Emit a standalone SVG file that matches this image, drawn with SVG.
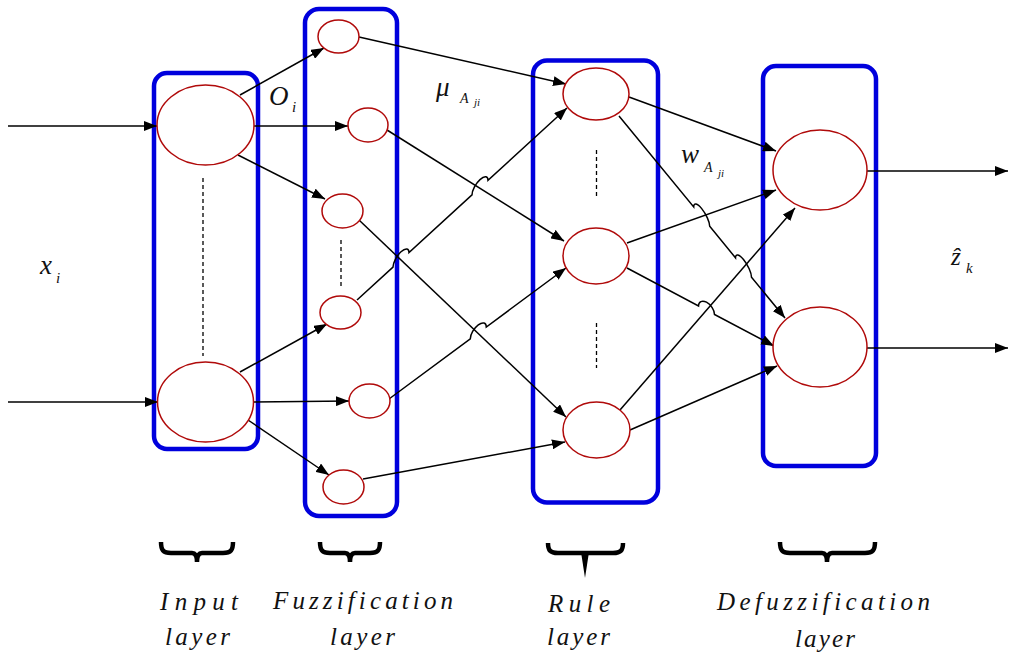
<svg xmlns="http://www.w3.org/2000/svg" width="1009" height="661" viewBox="0 0 1009 661">
  <style>
    .layer { fill: none; stroke: #0000dd; stroke-width: 4.5; }
    .neuron { fill: #ffffff; stroke: #b00a0a; stroke-width: 1.5; }
    .edge { fill: none; stroke: #000000; stroke-width: 1.5; marker-end: url(#arrow); }
    .dots { fill: none; stroke: #000000; stroke-width: 1.3; stroke-dasharray: 4 3; }
    .brace { fill: none; stroke: #000000; stroke-width: 4.5; stroke-linecap: butt; }
    text { font-family: 'Liberation Serif', 'DejaVu Serif', serif; font-style: italic; fill: #111111; }
    .caption { font-size: 25px; }
  </style>
  <defs>
    <marker id="arrow" markerUnits="userSpaceOnUse" markerWidth="13" markerHeight="10" refX="13" refY="5" orient="auto">
      <path d="M0,0 L13,5 L0,10 z" fill="#000000"/>
    </marker>
  </defs>

  <rect width="1009" height="661" fill="#ffffff"/>

  <!-- layer frames -->
  <g id="input-layer-frame"><rect class="layer" x="154" y="73" width="104" height="376" rx="13"/></g>
  <g id="fuzzification-layer-frame"><rect class="layer" x="305" y="9" width="92" height="507" rx="14"/></g>
  <g id="rule-layer-frame"><rect class="layer" x="533" y="60.5" width="125" height="442" rx="14"/></g>
  <g id="defuzzification-layer-frame"><rect class="layer" x="763" y="66" width="113" height="400" rx="13"/></g>

  <!-- connectors -->
  <g id="connectors">
    <!-- external inputs -->
    <path class="edge" d="M8,126 L157,126"/>
    <path class="edge" d="M8,402 L158,402"/>
    <!-- input to fuzzification -->
    <path class="edge" d="M240,95 L324,48"/>
    <path class="edge" d="M254,126 L348,126"/>
    <path class="edge" d="M238,155 L325,199"/>
    <path class="edge" d="M240,372 L327,324"/>
    <path class="edge" d="M253,402 L349,401"/>
    <path class="edge" d="M248,420 L329,475"/>
    <!-- fuzzification to rules (line jumps where paths cross) -->
    <path class="edge" d="M359,37 L566,84"/>
    <path class="edge" d="M387,130 L564,241"/>
    <path class="edge" d="M359,220 L566,417"/>
    <path class="edge" d="M357,300 L393,267.1 C393,262.7 396.6,255.8 401,251.8 C405.4,247.8 409,248.1 409,252.5 L472,194.9 C472,190.5 475.6,183.6 480,179.6 C484.4,175.6 488,175.9 488,180.3 L567,108"/>
    <path class="edge" d="M389,399 L470.3,338.8 C470.3,334.4 473.9,328.2 478.3,324.9 C482.7,321.6 486.3,322.6 486.3,327 L566,268"/>
    <path class="edge" d="M363,479 L565,442"/>
    <!-- rules to defuzzification -->
    <path class="edge" d="M629,97 L776,151"/>
    <path class="edge" d="M619,116 L693.7,206.9 C693.7,202.5 697.3,203.2 701.7,208.6 C706.1,214 709.7,221.9 709.7,226.3 L735.5,257.8 C735.5,253.4 739.1,254.1 743.5,259.5 C747.9,264.9 751.5,272.8 751.5,277.2 L785,318"/>
    <path class="edge" d="M627,243 L776,190"/>
    <path class="edge" d="M627,268 L698.5,306 C698.5,301.6 702.1,299.9 706.5,302.2 C710.9,304.6 714.5,310 714.5,314.5 L774,346"/>
    <path class="edge" d="M620,410 L795,208"/>
    <path class="edge" d="M630,430 L777,366"/>
    <!-- outputs -->
    <path class="edge" d="M867,171 L1008,171"/>
    <path class="edge" d="M867,348 L1008,348"/>
  </g>

  <!-- input layer -->
  <g id="input-1"><ellipse class="neuron" cx="205.5" cy="125" rx="48.5" ry="40"/></g>
  <g id="input-n"><ellipse class="neuron" cx="205.5" cy="402" rx="48" ry="40"/></g>
  <g id="input-ellipsis"><line class="dots" x1="203" y1="178" x2="203" y2="356"/></g>

  <!-- fuzzification layer -->
  <g id="fuzz-1"><ellipse class="neuron" cx="338.5" cy="36.5" rx="20.5" ry="16.5"/></g>
  <g id="fuzz-2"><ellipse class="neuron" cx="368" cy="125" rx="20" ry="17"/></g>
  <g id="fuzz-3"><ellipse class="neuron" cx="342.5" cy="211" rx="20.5" ry="17"/></g>
  <g id="fuzz-ellipsis"><line class="dots" x1="341" y1="240" x2="341" y2="287"/></g>
  <g id="fuzz-4"><ellipse class="neuron" cx="340.5" cy="312.5" rx="20.5" ry="16.5"/></g>
  <g id="fuzz-5"><ellipse class="neuron" cx="369.5" cy="401" rx="20.5" ry="17"/></g>
  <g id="fuzz-6"><ellipse class="neuron" cx="343.5" cy="487" rx="20.5" ry="17"/></g>

  <!-- rule layer -->
  <g id="rule-1"><ellipse class="neuron" cx="596" cy="94" rx="33" ry="26"/></g>
  <g id="rule-ellipsis-1"><line class="dots" x1="596.5" y1="150" x2="596.5" y2="196"/></g>
  <g id="rule-2"><ellipse class="neuron" cx="596" cy="256" rx="33" ry="28"/></g>
  <g id="rule-ellipsis-2"><line class="dots" x1="596.5" y1="323" x2="596.5" y2="368"/></g>
  <g id="rule-3"><ellipse class="neuron" cx="596.5" cy="430" rx="33.5" ry="28"/></g>

  <!-- defuzzification layer -->
  <g id="defuzz-1"><ellipse class="neuron" cx="820" cy="170" rx="47" ry="40"/></g>
  <g id="defuzz-2"><ellipse class="neuron" cx="820" cy="347" rx="47" ry="40"/></g>

  <!-- signal labels -->
  <g id="label-xi">
    <text x="40" y="274" font-size="27">x</text>
    <text x="56" y="283" font-size="15">i</text>
  </g>
  <g id="label-oi">
    <text x="269" y="105" font-size="27">O</text>
    <text x="292" y="112" font-size="15">i</text>
  </g>
  <g id="label-mu">
    <text x="436" y="96" font-size="27">μ</text>
    <text x="460" y="103" font-size="14">A</text>
    <text x="474" y="106" font-size="11">ji</text>
  </g>
  <g id="label-w">
    <text x="681" y="163" font-size="27">w</text>
    <text x="704" y="172" font-size="14">A</text>
    <text x="718" y="177" font-size="11">ji</text>
  </g>
  <g id="label-zk">
    <text x="951" y="265" font-size="25" font-style="normal">ẑ</text>
    <text x="966" y="273" font-size="15">k</text>
  </g>

  <!-- braces -->
  <g id="brace-input"><path class="brace" d="M161,542 C161,550 163,553 171,553 L192,553 Q197,553 197,562 M197,562 Q197,553 202,553 L223,553 C231,553 233,550 233,542"/></g>
  <g id="brace-fuzz"><path class="brace" d="M320,542 C320,550 322,553 330,553 L345,553 Q350,553 350,562 M350,562 Q350,553 355,553 L370,553 C378,553 380,550 380,542"/></g>
  <g id="brace-rule">
    <path class="brace" d="M548,543 C548,550 550,553 558,553 L613,553 C621,553 623,550 623,543"/>
    <path d="M581,552 L585,578 L589,552 z" fill="#000000"/>
  </g>
  <g id="brace-defuzz"><path class="brace" d="M780,542 C780,550 782,553 790,553 L822,553 Q827,553 827,562 M827,562 Q827,553 832,553 L865,553 C873,553 875,550 875,542"/></g>

  <!-- layer captions -->
  <g id="caption-input">
    <text class="caption" x="160" y="610" textLength="78" lengthAdjust="spacing">Input</text>
    <text class="caption" x="165" y="645" textLength="65" lengthAdjust="spacing">layer</text>
  </g>
  <g id="caption-fuzz">
    <text class="caption" x="273" y="609" textLength="180" lengthAdjust="spacing">Fuzzification</text>
    <text class="caption" x="330" y="645" textLength="65" lengthAdjust="spacing">layer</text>
  </g>
  <g id="caption-rule">
    <text class="caption" x="548" y="612" textLength="62" lengthAdjust="spacing">Rule</text>
    <text class="caption" x="547" y="645" textLength="63" lengthAdjust="spacing">layer</text>
  </g>
  <g id="caption-defuzz">
    <text class="caption" x="717" y="610" textLength="213" lengthAdjust="spacing">Defuzzification</text>
    <text class="caption" x="795" y="647" textLength="60" lengthAdjust="spacing">layer</text>
  </g>
</svg>
